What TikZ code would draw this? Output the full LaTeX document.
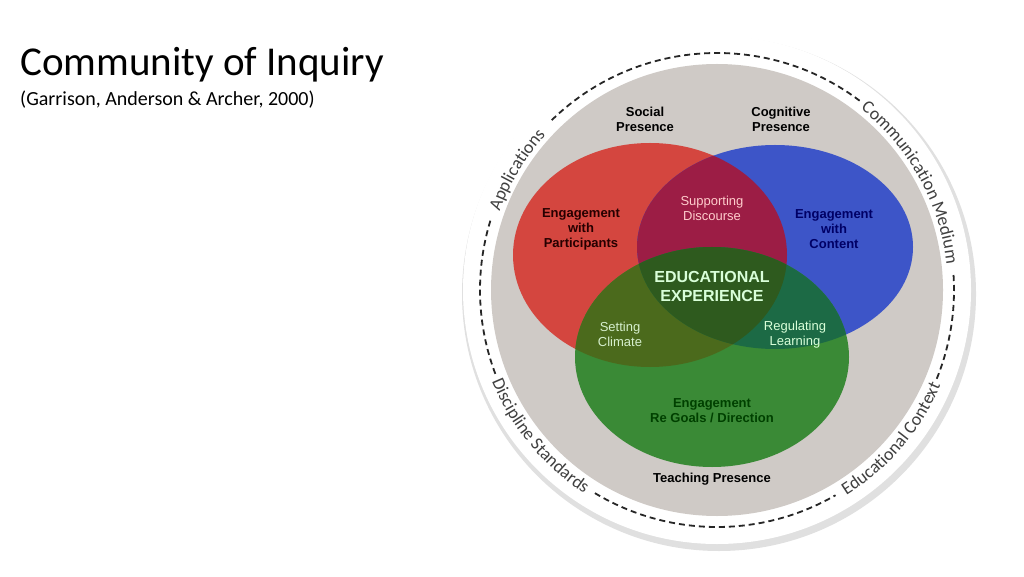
\documentclass[tikz,border=0pt]{standalone}
\usepackage{fontspec}
\setmainfont{Carlito}
\newfontfamily\lab{Liberation Sans}
\usetikzlibrary{decorations.text}
\definecolor{ro}{HTML}{D4463F}
\definecolor{bo}{HTML}{3D55C8}
\definecolor{go}{HTML}{3A8A36}
\definecolor{rb}{HTML}{9C1D45}
\definecolor{rg}{HTML}{4B6A1C}
\definecolor{bg}{HTML}{1C6A45}
\definecolor{rbg}{HTML}{2E5A1E}
\definecolor{disc}{HTML}{CFCAC6}
\tikzset{
 lbl/.style={font=\lab\bfseries\fontsize{13}{15}\selectfont, align=center},
 lblr/.style={font=\lab\fontsize{13}{15}\selectfont, align=center},
 ring/.style={decorate, decoration={text along path, text align=center, text={|\fontsize{18}{18}\selectfont\color{black!75}|#1}}},
 dsh/.style={draw=black!85, line width=1.8pt, dash pattern=on 6pt off 4pt},
}
\begin{document}
\begin{tikzpicture}[x=1pt,y=1pt]
\useasboundingbox (0,0) rectangle (1024,576);
\fill[white] (0,0) rectangle (1024,576);
\node[anchor=west, inner sep=0, font=\fontsize{41}{44}\selectfont] (title) at (20,511) {Community of Inquiry};
\node[anchor=west, inner sep=0, font=\fontsize{20}{22}\selectfont] (sub) at (20,476) {(Garrison, Anderson \& Archer, 2000)};
\coordinate (C) at (717,286);
\fill[black!12] (719,282) circle (257);
\fill[white] (C) circle (254);
\fill[disc] (C) circle (226);
% venn
\fill[ro] (650,321) ellipse [x radius=137, y radius=112];
\fill[bo] (775,329) ellipse [x radius=138, y radius=102];
\fill[go] (712,219) ellipse [x radius=137, y radius=110];
\begin{scope}
 \clip (650,321) ellipse [x radius=137, y radius=112];
 \fill[rb] (775,329) ellipse [x radius=138, y radius=102];
 \fill[rg] (712,219) ellipse [x radius=137, y radius=110];
\end{scope}
\begin{scope}
 \clip (775,329) ellipse [x radius=138, y radius=102];
 \fill[bg] (712,219) ellipse [x radius=137, y radius=110];
 \clip (650,321) ellipse [x radius=137, y radius=112];
 \fill[rbg] (712,219) ellipse [x radius=137, y radius=110];
\end{scope}
% ring
\draw[dsh] (C) ++(53:237) arc[start angle=53, end angle=135, radius=237];
\draw[dsh] (C) ++(163:237) arc[start angle=163, end angle=201, radius=237];
\draw[dsh] (C) ++(239:237) arc[start angle=239, end angle=300, radius=237];
\draw[dsh] (C) ++(-22:237) arc[start angle=-22, end angle=4, radius=237];
\path[ring={Applications}] (C) ++(166:231) arc[start angle=166, end angle=132, radius=231];
\path[ring={Communication Medium}] (C) ++(61:231) arc[start angle=61, end angle=-3, radius=231];
\path[ring={Educational Context}] (C) ++(-64:243) arc[start angle=-64, end angle=-17, radius=243];
\path[ring={Discipline Standards}] (C) ++(197:243) arc[start angle=197, end angle=242, radius=243];
% labels
\node[lbl] (sp) at (645,457) {Social\\Presence};
\node[lbl] (cp) at (781,457) {Cognitive\\Presence};
\node[lbl, text=black!85!red] (ep) at (581,347) {Engagement\\with\\Participants};
\node[lblr, text=pink!80!white] (sd) at (712,368) {Supporting\\Discourse};
\node[lbl, text=blue!40!black] (ec) at (834,347) {Engagement\\with\\Content};
\node[lbl, font=\lab\bfseries\fontsize{16}{19}\selectfont, text=green!15!white] (ee) at (712,290) {EDUCATIONAL\\EXPERIENCE};
\node[lblr, text=yellow!20!green!20!white] (sc) at (620,242) {Setting\\Climate};
\node[lblr, text=green!15!white] (rl) at (795,241) {Regulating\\Learning};
\node[lbl, text=green!25!black] (eg) at (712,165) {Engagement\\Re Goals / Direction};
\node[lbl] (tp) at (712,97) {Teaching Presence};
\end{tikzpicture}
\end{document}
